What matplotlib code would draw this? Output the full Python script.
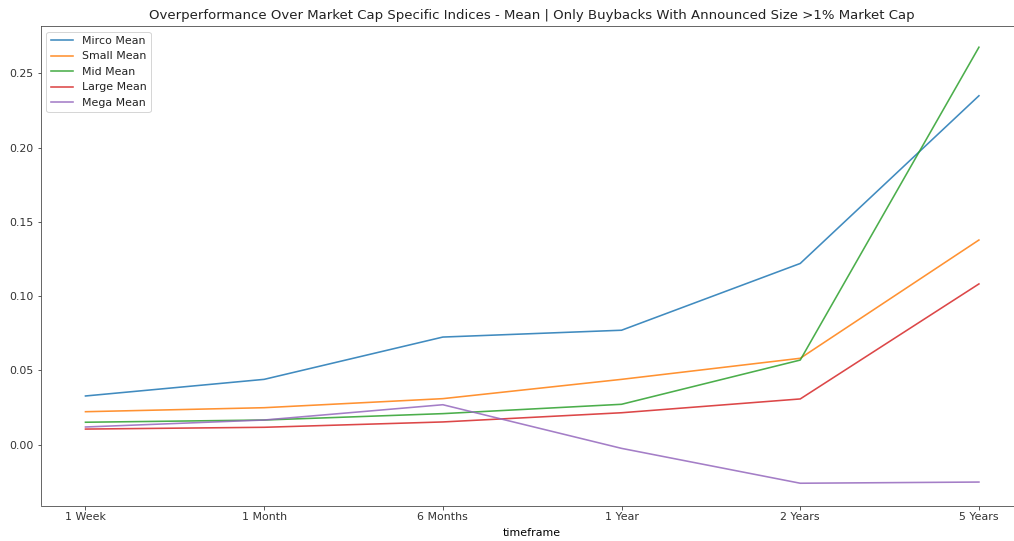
import matplotlib
matplotlib.use("Agg")
import matplotlib.pyplot as plt

timeframes = ["1 Week", "1 Month", "6 Months", "1 Year", "2 Years", "5 Years"]
micro_mean = [0.0327, 0.0439, 0.0724, 0.0770, 0.1220, 0.2350]
small_mean = [0.0221, 0.0248, 0.0309, 0.0439, 0.0581, 0.1378]
mid_mean = [0.0150, 0.0165, 0.0208, 0.0271, 0.0569, 0.2677]
large_mean = [0.0104, 0.0116, 0.0152, 0.0214, 0.0307, 0.1082]
mega_mean = [0.0118, 0.0165, 0.0268, -0.0026, -0.0261, -0.0253]

series = [
    ("Mirco Mean", micro_mean),
    ("Small Mean", small_mean),
    ("Mid Mean", mid_mean),
    ("Large Mean", large_mean),
    ("Mega Mean", mega_mean),
]

plt.rcParams["font.size"] = 11
plt.rcParams["text.color"] = "#222222"
plt.rcParams["xtick.color"] = "#333333"
plt.rcParams["ytick.color"] = "#333333"
plt.rcParams["axes.edgecolor"] = "#444444"

fig = plt.figure(figsize=(1014 / 72, 541 / 72), dpi=72)
ax = fig.add_axes([40.8 / 1014, 1 - 505.5 / 541, (1023.6 - 40.8) / 1014, (505.5 - 26) / 541])
x = list(range(len(timeframes)))
for name, vals in series:
    ax.plot(x, vals, label=name, linewidth=1.6, alpha=0.85)

ax.set_xticks(x)
ax.set_xticklabels(timeframes)
ax.set_xlim(-0.25, 5.25)
ax.set_ylim(-0.0411, 0.282)
ax.set_yticks([0.0, 0.05, 0.10, 0.15, 0.20, 0.25])
ax.set_yticklabels(["0.00", "0.05", "0.10", "0.15", "0.20", "0.25"])
ax.set_xlabel("timeframe", labelpad=5)
ax.set_title("Overperformance Over Market Cap Specific Indices - Mean | Only Buybacks With Announced Size >1% Market Cap",
             fontsize=13.2, pad=7)
ax.legend(loc="upper left")

fig.savefig("out.png", dpi=72)
